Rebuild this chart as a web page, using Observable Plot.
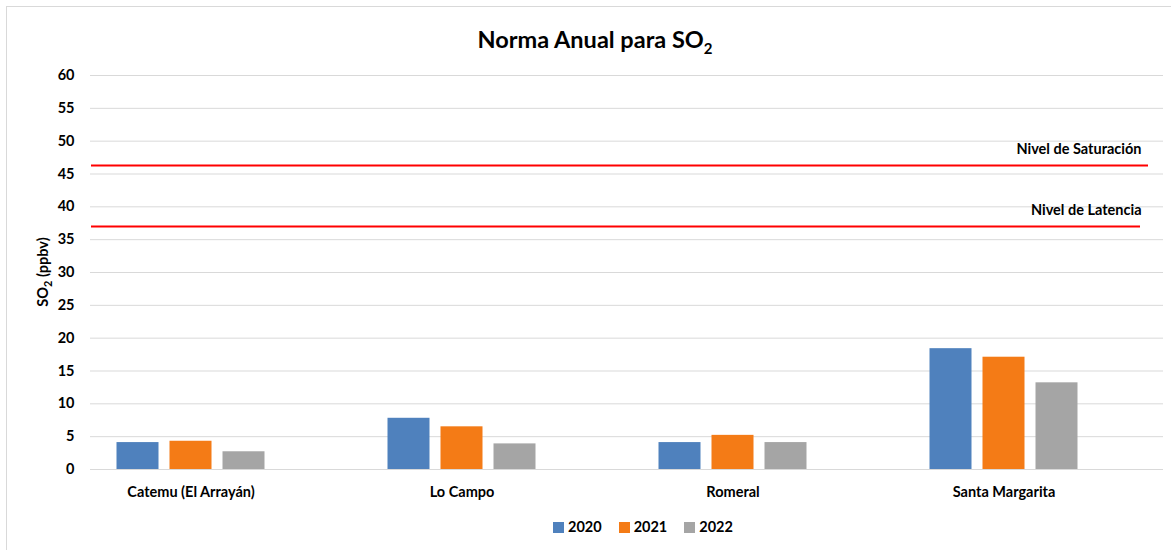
<!DOCTYPE html>
<html><head><meta charset="utf-8">
<script src="https://cdn.jsdelivr.net/npm/d3@7"></script>
<script src="https://cdn.jsdelivr.net/npm/@observablehq/plot@0.6"></script>
<style>
body{margin:0;background:#fff;font-family:Lato,"Open Sans",sans-serif;}
#wrap{position:relative;width:1171px;height:550px;}
#frame{position:absolute;left:6px;top:6px;width:1170px;height:560px;border:1px solid #d9d9d9;box-sizing:border-box;}
#title{position:absolute;left:0;width:1190px;top:25px;text-align:center;font-weight:bold;font-size:23.5px;color:#000;}
#legend{position:absolute;left:553px;top:518px;display:flex;gap:17px;font-weight:bold;font-size:14.5px;color:#000;}
#legend span.sw{display:inline-block;width:11px;height:11px;margin-right:4px;vertical-align:-1px;}
#ylab{position:absolute;left:44px;top:272px;transform:translate(-50%,-50%) rotate(-90deg);font-weight:bold;font-size:14.5px;white-space:nowrap;}
svg{position:absolute;left:0;top:0;}
</style></head>
<body><div id="wrap"><div id="frame"></div><div id="chart"></div>
<div id="title">Norma Anual para SO<sub style="font-size:15px">2</sub></div>
<div id="ylab">SO<sub style="font-size:11px">2</sub> (ppbv)</div>
<div id="legend"></div></div>
<script>
const stations = ["Catemu (El Arrayán)", "Lo Campo", "Romeral", "Santa Margarita"];
const years = ["2020", "2021", "2022"];
const v2020 = [4.1, 7.8, 4.1, 18.4];
const v2021 = [4.3, 6.5, 5.2, 17.1];
const v2022 = [2.7, 3.9, 4.1, 13.2];
const colors = ["#4F81BD", "#F47B16", "#A5A5A5"];
const yTicks = d3.range(0, 61, 5);
const saturation = 46.3;
const latency = 37;

const series = [v2020, v2021, v2022];
const data = years.flatMap((y, i) => stations.map((s, j) => ({station: s, year: y, value: series[i][j]})));
const levels = [{name: "Nivel de Saturación", value: saturation}, {name: "Nivel de Latencia", value: latency}];

const offsets = [-53, 0, 53];
const barMarks = years.map((y, i) => Plot.barY(data.filter(d => d.year === y), {
  x: "station", y: "value", fill: colors[i], dx: offsets[i], insetLeft: 114.5, insetRight: 114.5
}));

const chart = Plot.plot({
  width: 1171, height: 550,
  marginTop: 75, marginBottom: 81, marginLeft: 90, marginRight: 8,
  style: {fontFamily: "Lato, 'Open Sans', sans-serif", fontSize: "14.5px", fontWeight: "bold", color: "#000", background: "transparent"},
  x: {domain: stations, range: [55, 1139], padding: 0, label: null},
  y: {domain: [0, 60], label: null},
  marks: [
    Plot.ruleY(yTicks, {stroke: "#d9d9d9", strokeWidth: 1}),
    Plot.axisY({ticks: yTicks, tickSize: 0, tickPadding: 16, label: null, fontWeight: "bold"}),
    Plot.axisX({tickSize: 0, tickPadding: 17, label: null, fontWeight: "bold"}),
    ...barMarks,
    Plot.ruleY([levels[0]], {y: "value", stroke: "#ff0000", strokeWidth: 2, insetLeft: 1, insetRight: 15}),
    Plot.ruleY([levels[1]], {y: "value", stroke: "#ff0000", strokeWidth: 2, insetLeft: 1, insetRight: 23}),
    Plot.text(levels, {y: "value", text: "name", frameAnchor: "right", textAnchor: "end", dx: -22, dy: -16, fill: "#000", fontWeight: "bold"})
  ]
});
document.getElementById("chart").appendChild(chart);

const leg = document.getElementById("legend");
years.forEach((y, i) => {
  const d = document.createElement("div");
  d.innerHTML = `<span class="sw" style="background:${colors[i]}"></span>${y}`;
  leg.appendChild(d);
});
</script></body></html>
